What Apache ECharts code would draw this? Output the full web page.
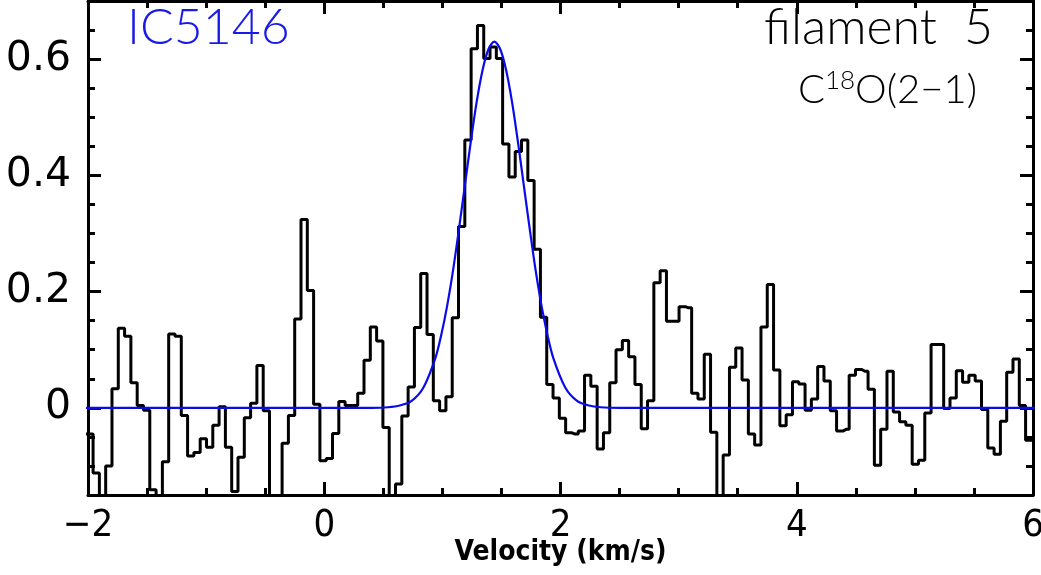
<!DOCTYPE html>
<html>
<head>
<meta charset="utf-8">
<script src="https://cdn.jsdelivr.net/npm/echarts@6.0.0/dist/echarts.min.js"></script>
<style>
  html, body { margin: 0; padding: 0; background: #fff; }
  #box { width: 1041px; height: 575px; }
</style>
</head>
<body>
<div id="box"></div>
<script>
// channel grid of the spectrum (km/s): first channel centre and width
const chanStart = -2.037;
const chanWidth = 0.05334;

// C18O(2-1) brightness per channel (values below -0.15 run off the frame)
const flux = [
  -0.045,
  -0.045, -0.112, -0.18, -0.100, 0.033, 0.137, 0.123, 0.043, 0.004, -0.004,
  -0.141, -0.18, -0.093, 0.127, 0.123, -0.013, -0.083, -0.077, -0.053, -0.068,
  -0.030, 0.002, -0.068, -0.144, -0.085, -0.017, 0.008, 0.073, -0.005, -0.18,
  -0.18, -0.061, -0.013, 0.153, 0.324, 0.202, 0.006, -0.091, -0.087, -0.044,
  0.011, 0.004, 0.004, 0.025, 0.082, 0.139, 0.115, -0.034, -0.18, -0.131,
  -0.014, 0.036, 0.138, 0.231, 0.126, 0.012, -0.005, 0.019, 0.155, 0.312,
  0.461, 0.618, 0.658, 0.601, 0.621, 0.601, 0.454, 0.397, 0.441, 0.461,
  0.391, 0.273, 0.156, 0.040, 0.017, -0.018, -0.043, -0.045, -0.040, 0.056,
  0.037, -0.071, -0.043, 0.043, 0.100, 0.116, 0.088, 0.040, -0.036, 0.012,
  0.215, 0.236, 0.149, 0.149, 0.174, 0.172, 0.025, 0.015, 0.092, -0.042,
  -0.18, -0.081, 0.070, 0.103, 0.048, -0.045, -0.064, 0.139, 0.212, 0.065,
  -0.031, -0.012, 0.045, 0.041, -0.004, 0.015, 0.071, 0.046, -0.005, -0.040,
  -0.037, 0.056, 0.066, 0.063, 0.032, -0.099, -0.037, 0.063, -0.007, -0.024,
  -0.030, -0.097, -0.090, -0.009, 0.109, 0.109, -0.001, 0.017, 0.064, 0.044,
  0.056, 0.046, -0.003, -0.069, -0.080, -0.023, 0.061, 0.084, 0.004, -0.056,
  -0.056
];

// gaussian fit (blue)
const fitVel = [-2.1, 0.40, 0.54, 0.64, 0.74, 0.84, 0.94, 0.99, 1.04, 1.09, 1.14, 1.19, 1.24, 1.29,
  1.34, 1.39, 1.44, 1.49, 1.54, 1.59, 1.64, 1.69, 1.74, 1.79, 1.84, 1.89, 1.94, 2.04, 2.14,
  2.24, 2.34, 2.50, 6.1];
const fitVal = [0, 0, 0.001, 0.004, 0.012, 0.035, 0.085, 0.125, 0.175, 0.236, 0.307, 0.382, 0.457, 0.526,
  0.581, 0.617, 0.630, 0.617, 0.581, 0.526, 0.457, 0.382, 0.307, 0.236, 0.175, 0.125, 0.085, 0.035, 0.012,
  0.004, 0.001, 0, 0];

const xTicks = [-2, 0, 2, 4, 6];
const yTicks = [0, 0.2, 0.4, 0.6];

const specData = flux.map((t, i) => [chanStart + i * chanWidth, t]);
const fitData = fitVel.map((v, i) => [v, fitVal[i]]);

const labelFont = '"DejaVu Sans Condensed", "DejaVu Sans", sans-serif';
const yLabelFont = '"DejaVu Sans", sans-serif';
const thinFont = '"Lato Light", Lato, "DejaVu Sans", sans-serif';
const blk = '#000';
const tickLine = { color: blk, width: 3 };

function minus(v) {
  return v < 0 ? '\u2212' + Math.abs(v) : String(v);
}

let myChart = echarts.init(document.getElementById('box'));
let option = {
  animation: false,
  backgroundColor: '#fff',
  grid: { left: 88, right: 8, top: 1, bottom: 80, containLabel: false, outerBoundsMode: 'none' },
  xAxis: [
    {
      type: 'value', position: 'bottom', min: -2, max: 6, interval: 2,
      axisLine: { onZero: false, lineStyle: { color: blk, width: 3 } },
      axisTick: { inside: true, length: 13, lineStyle: tickLine, customValues: xTicks },
      minorTick: { show: true, splitNumber: 4, length: 7, lineStyle: tickLine },
      splitLine: { show: false },
      axisLabel: { fontSize: 38, color: blk, fontFamily: labelFont, margin: 12, formatter: minus },
      name: 'Velocity (km/s)', nameLocation: 'middle', nameGap: 44, nameMoveOverlap: false,
      nameTextStyle: { fontSize: 28, fontWeight: 'bold', color: blk, fontFamily: labelFont }
    },
    {
      type: 'value', position: 'top', min: -2, max: 6, interval: 2,
      axisLine: { onZero: false, lineStyle: { color: blk, width: 3 } },
      axisTick: { inside: true, length: 13, lineStyle: tickLine },
      minorTick: { show: true, splitNumber: 4, length: 7, lineStyle: tickLine },
      splitLine: { show: false },
      axisLabel: { show: false }
    }
  ],
  yAxis: [
    {
      type: 'value', position: 'left', min: -0.15, max: 0.7, interval: 0.05,
      axisLine: { onZero: false, lineStyle: { color: blk, width: 3 } },
      axisTick: { inside: true, length: 7, lineStyle: tickLine },
      splitLine: { show: false },
      axisLabel: { show: false }
    },
    {
      type: 'value', position: 'right', min: -0.15, max: 0.7, interval: 0.05,
      axisLine: { onZero: false, lineStyle: { color: blk, width: 3 } },
      axisTick: { inside: true, length: 7, lineStyle: tickLine },
      splitLine: { show: false },
      axisLabel: { show: false }
    },
    {
      type: 'value', position: 'left', min: -0.15, max: 0.7,
      axisLine: { show: false, onZero: false },
      axisTick: { inside: true, length: 13, lineStyle: tickLine, customValues: yTicks },
      splitLine: { show: false },
      axisLabel: { customValues: yTicks, fontSize: 41, color: blk, fontFamily: yLabelFont, margin: 17 }
    },
    {
      type: 'value', position: 'right', min: -0.15, max: 0.7,
      axisLine: { show: false, onZero: false },
      axisTick: { inside: true, length: 13, lineStyle: tickLine, customValues: yTicks },
      splitLine: { show: false },
      axisLabel: { show: false }
    }
  ],
  series: [
    {
      type: 'line', name: 'spectrum', data: specData, step: 'middle',
      showSymbol: false, clip: true,
      lineStyle: { color: blk, width: 3 }, z: 2
    },
    {
      type: 'line', name: 'fit', data: fitData, smooth: 0.3,
      showSymbol: false, clip: true,
      lineStyle: { color: '#0a0aee', width: 2.2 }, z: 3
    }
  ],
  graphic: [
    { type: 'text', left: 127, top: 3, style: { text: 'IC5146', fontSize: 50, fontWeight: 300, fill: '#1a1ae6', fontFamily: thinFont } },
    { type: 'text', right: 48, top: 3, style: { text: 'filament  5', fontSize: 50, fontWeight: 300, fill: blk, fontFamily: thinFont } },
    {
      type: 'text', right: 64, top: 68,
      style: {
        text: '{a|C}{s|18}{a|O(2\u22121)}',
        fill: blk,
        rich: {
          a: { fontSize: 40, fontWeight: 300, fontFamily: thinFont, fill: blk, verticalAlign: 'bottom' },
          s: { fontSize: 26, fontWeight: 300, fontFamily: thinFont, fill: blk, verticalAlign: 'top', padding: [0, 0, 16, 0] }
        }
      }
    }
  ]
};
myChart.setOption(option);
window.onresize = function () {
  myChart.resize();
};
</script>
</body>
</html>
